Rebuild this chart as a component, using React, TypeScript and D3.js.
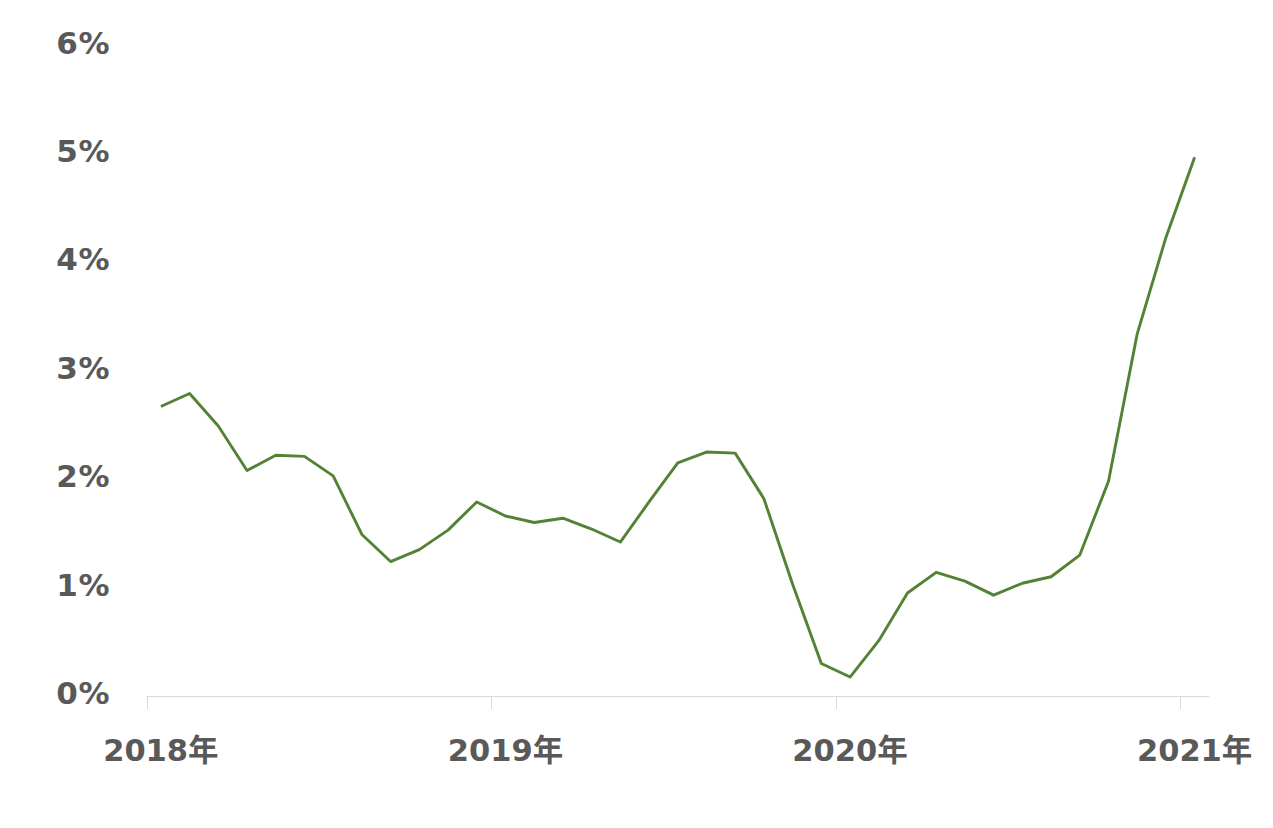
import * as d3 from "d3";

const months = [
  "2018-01", "2018-02", "2018-03", "2018-04", "2018-05", "2018-06",
  "2018-07", "2018-08", "2018-09", "2018-10", "2018-11", "2018-12",
  "2019-01", "2019-02", "2019-03", "2019-04", "2019-05", "2019-06",
  "2019-07", "2019-08", "2019-09", "2019-10", "2019-11", "2019-12",
  "2020-01", "2020-02", "2020-03", "2020-04", "2020-05", "2020-06",
  "2020-07", "2020-08", "2020-09", "2020-10", "2020-11", "2020-12",
  "2021-01",
];

// percent
const values = [
  2.67, 2.79, 2.49, 2.08, 2.22, 2.21, 2.03, 1.49, 1.24, 1.35, 1.53, 1.79,
  1.66, 1.6, 1.64, 1.54, 1.42, 1.79, 2.15, 2.25, 2.24, 1.82, 1.03, 0.3,
  0.175, 0.51, 0.95, 1.14, 1.06, 0.93, 1.04, 1.1, 1.3, 1.98, 3.34, 4.23, 4.97,
];

const yearTicks = ["2018-01", "2019-01", "2020-01", "2021-01"];
const yearLabels = ["2018年", "2019年", "2020年", "2021年"];
const yTicks = [0, 1, 2, 3, 4, 5, 6];

const width = 1273;
const height = 828;

export default function App() {
  const x = d3
    .scaleBand<string>()
    .domain(months)
    .range([146.5, 1209])
    .padding(0);
  const bw = x.bandwidth();

  const y = d3.scaleLinear().domain([0, 6]).range([696, 45.5]);

  const line = d3
    .line<number>()
    .x((_, i) => x(months[i])! + bw / 2)
    .y((d) => y(d));

  const font = "'DejaVu Sans', 'Noto Sans CJK JP', sans-serif";
  const axisY = y(0);

  return (
    <div style={{ position: "absolute", left: 0, top: 0 }}>
      <svg width={width} height={height} style={{ display: "block" }}>
        <rect width={width} height={height} fill="#ffffff" />
        {/* y labels */}
        {yTicks.map((t) => (
          <text
            key={t}
            x={110}
            y={y(t) + 8}
            textAnchor="end"
            fontFamily={font}
            fontWeight="bold"
            fontSize={31}
            letterSpacing={0.5}
            fill="#595959"
          >
            {t}%
          </text>
        ))}
        {/* x axis */}
        <line
          x1={x.range()[0]}
          x2={x.range()[1]}
          y1={axisY + 0.5}
          y2={axisY + 0.5}
          stroke="#d9d9d9"
          strokeWidth={1}
        />
        {yearTicks.map((m, i) => (
          <g key={m}>
            <line
              x1={Math.round(x(m)!) + 0.5}
              x2={Math.round(x(m)!) + 0.5}
              y1={axisY}
              y2={axisY + 13}
              stroke="#d9d9d9"
              strokeWidth={1}
            />
            <text
              x={x(m)! + bw / 2}
              y={761}
              textAnchor="middle"
              fontFamily={font}
              fontWeight="bold"
              fontSize={30.5}
              fill="#595959"
            >
              {yearLabels[i]}
            </text>
          </g>
        ))}
        <path
          d={line(values) || ""}
          fill="none"
          stroke="#548235"
          strokeWidth={2.9}
          strokeLinejoin="round"
        />
      </svg>
    </div>
  );
}
